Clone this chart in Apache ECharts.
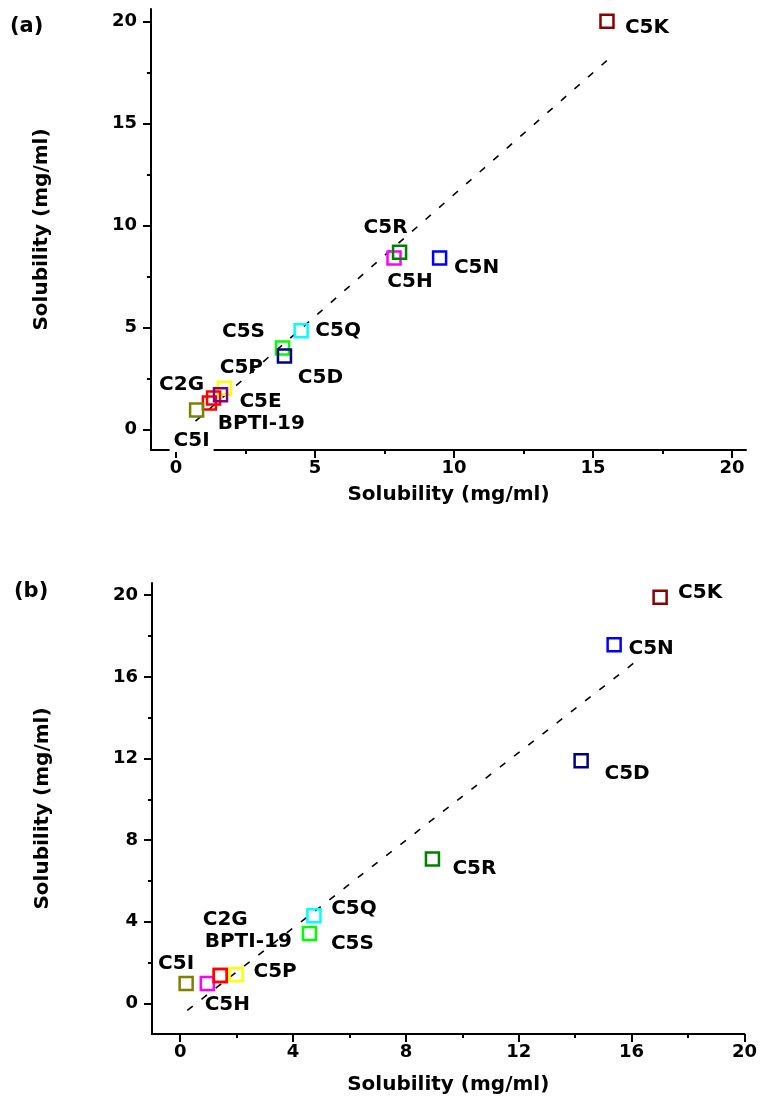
<!DOCTYPE html>
<html><head><meta charset="utf-8">
<script src="https://cdn.jsdelivr.net/npm/echarts@6.0.0/dist/echarts.min.js"></script>
<style>html,body{margin:0;padding:0;background:#fff}#c{width:760px;height:1101px}</style>
</head><body><div id="c"></div>
<script>
// ---------- Panel (a) data ----------
const namesA = ['C5K','C5N','C5H','C5R','C5Q','C5S','C5D','C5P','C2G','BPTI-19','C5E','C5I'];
const xA = [15.5, 9.48, 7.84, 8.04, 4.5, 3.83, 3.9, 1.74, 1.35, 1.2, 1.6, 0.74];
const yA = [20.0, 8.41, 8.41, 8.68, 4.84, 4.0, 3.6, 2.03, 1.55, 1.3, 1.71, 0.96];
const fitA = [[0.7, 0.41], [15.5, 18.08]];
const xTicksA = [0, 5, 10, 15, 20];
const xMinorA = [2.5, 7.5, 12.5, 17.5];
const yTicksA = [0, 5, 10, 15, 20];
const yMinorA = [2.5, 7.5, 12.5, 17.5];

// ---------- Panel (b) data ----------
const namesB = ['C5K','C5N','C5D','C5R','C5Q','C5S','C5P','C5H','C2G','BPTI-19','C5I'];
const xB = [17.01, 15.38, 14.21, 8.94, 4.74, 4.58, 1.98, 0.96, 1.42, 1.42, 0.21];
const yB = [19.9, 17.57, 11.89, 7.08, 4.29, 3.43, 1.42, 0.98, 1.37, 1.37, 0.98];
const fitB = [[0.25, -0.34], [16.1, 16.70]];
const xTicksB = [0, 4, 8, 12, 16, 20];
const xMinorB = [2, 6, 10, 14, 18];
const yTicksB = [0, 4, 8, 12, 16, 20];
const yMinorB = [2, 6, 10, 14, 18];

const axisTitle = 'Solubility (mg/ml)';

// ---------- styles ----------
const colors = {
  'C5K': '#8b0000', 'C5N': '#0000ff', 'C5R': '#008000', 'C5H': '#ff00ff',
  'C5Q': '#00ffff', 'C5S': '#00ff00', 'C5D': '#000080', 'C5P': '#ffff00',
  'C2G': '#ff0000', 'BPTI-19': '#ff0000', 'C5E': '#800080', 'C5I': '#808000'
};
// label centre offset from the marker centre, in pixels
const offA = {
  'C5K': [40, 7], 'C5N': [37, 10], 'C5R': [-14, -25], 'C5H': [16, 24],
  'C5Q': [37, 0], 'C5S': [-39, -16], 'C5D': [36, 22], 'C5P': [17, -20],
  'C2G': [-32, -13], 'C5E': [40, 7], 'BPTI-19': [52, 21], 'C5I': [-5, 31]
};
const offB = {
  'C5K': [40, -4], 'C5N': [37, 4], 'C5D': [46, 13], 'C5R': [42, 10],
  'C5Q': [40, -7], 'C5S': [43, 10], 'C5P': [39, -3], 'C2G': [5, -56],
  'BPTI-19': [28, -34], 'C5I': [-10, -20], 'C5H': [20, 21]
};

const FONT = 'DejaVu Sans';
const BLACK = '#000';

function buildPoints(names, xs, ys, offs) {
  return names.map((n, i) => ({
    name: n,
    value: [xs[i], ys[i]],
    itemStyle: { color: 'rgba(0,0,0,0)', borderColor: colors[n], borderWidth: 2.5, opacity: 1 },
    label: {
      show: true, position: 'inside', offset: offs[n], formatter: n,
      color: BLACK, fontFamily: FONT, fontWeight: 'bold', fontSize: 20,
      textBorderWidth: 0, opacity: 1,
      align: 'center', verticalAlign: 'middle',
      backgroundColor: n === 'C5I' ? '#fff' : 'transparent',
      padding: n === 'C5I' ? [1, 4, 1, 4] : 0
    }
  }));
}

function mainX(grid, min, max, ticks, nameGap, lblMargin) {
  return {
    type: 'value', gridIndex: grid, min: min, max: max, position: 'bottom',
    name: axisTitle, nameLocation: 'middle', nameGap: nameGap,
    nameTextStyle: { color: BLACK, fontFamily: FONT, fontWeight: 'bold', fontSize: 20 },
    axisLine: { show: true, onZero: false, lineStyle: { color: BLACK, width: 2 } },
    axisTick: { show: true, inside: false, length: 8, customValues: ticks, lineStyle: { color: BLACK, width: 2 } },
    axisLabel: { show: true, customValues: ticks, margin: lblMargin, color: BLACK, fontFamily: FONT, fontWeight: 'bold', fontSize: 18 },
    splitLine: { show: false }
  };
}
function minorX(grid, min, max, ticks) {
  return {
    type: 'value', gridIndex: grid, min: min, max: max, position: 'bottom',
    axisLine: { show: false, onZero: false },
    axisTick: { show: true, inside: false, length: 4, customValues: ticks, lineStyle: { color: BLACK, width: 2 } },
    axisLabel: { show: false }, splitLine: { show: false }
  };
}
function mainY(grid, min, max, ticks, nameGap) {
  return {
    type: 'value', gridIndex: grid, min: min, max: max, position: 'left',
    name: axisTitle, nameLocation: 'middle', nameGap: nameGap,
    nameTextStyle: { color: BLACK, fontFamily: FONT, fontWeight: 'bold', fontSize: 20 },
    axisLine: { show: true, onZero: false, lineStyle: { color: BLACK, width: 2 } },
    axisTick: { show: true, inside: false, length: 8, customValues: ticks, lineStyle: { color: BLACK, width: 2 } },
    axisLabel: { show: true, customValues: ticks, margin: 14, color: BLACK, fontFamily: FONT, fontWeight: 'bold', fontSize: 18 },
    splitLine: { show: false }
  };
}
function minorY(grid, min, max, ticks) {
  return {
    type: 'value', gridIndex: grid, min: min, max: max, position: 'left',
    axisLine: { show: false, onZero: false },
    axisTick: { show: true, inside: false, length: 4, customValues: ticks, lineStyle: { color: BLACK, width: 2 } },
    axisLabel: { show: false }, splitLine: { show: false }
  };
}

const chart = echarts.init(document.getElementById('c'), null, { renderer: 'canvas' });
chart.setOption({
  animation: false,
  backgroundColor: '#fff',
  grid: [
    { left: 151, top: 9, width: 595, height: 441 },
    { left: 152, top: 583, width: 593, height: 451 }
  ],
  xAxis: [
    mainX(0, -0.9, 20.5, xTicksA, 35, 9),
    minorX(0, -0.9, 20.5, xMinorA),
    mainX(1, -1, 20, xTicksB, 41, 9),
    minorX(1, -1, 20, xMinorB)
  ],
  yAxis: [
    mainY(0, -1, 20.6, yTicksA, 99),
    minorY(0, -1, 20.6, yMinorA),
    mainY(1, -1.5, 20.6, yTicksB, 99),
    minorY(1, -1.5, 20.6, yMinorB)
  ],
  graphic: [
    { type: 'text', left: 10, top: 16, style: { text: '(a)', fill: BLACK, font: 'bold 21px "DejaVu Sans"' } },
    { type: 'text', left: 14, top: 581, style: { text: '(b)', fill: BLACK, font: 'bold 21px "DejaVu Sans"' } }
  ],
  series: [
    { type: 'line', xAxisIndex: 0, yAxisIndex: 0, data: fitA, symbol: 'none', z: 1, silent: true,
      lineStyle: { color: BLACK, width: 1.6, type: [7, 11] } },
    { type: 'scatter', xAxisIndex: 0, yAxisIndex: 0, symbol: 'rect', symbolSize: 13, z: 3, silent: true,
      itemStyle: { opacity: 1 },
      data: buildPoints(namesA, xA, yA, offA) },
    { type: 'line', xAxisIndex: 2, yAxisIndex: 2, data: fitB, symbol: 'none', z: 1, silent: true,
      lineStyle: { color: BLACK, width: 1.6, type: [7, 11] } },
    { type: 'scatter', xAxisIndex: 2, yAxisIndex: 2, symbol: 'rect', symbolSize: 13, z: 3, silent: true,
      itemStyle: { opacity: 1 },
      data: buildPoints(namesB, xB, yB, offB) }
  ]
});
</script>
</body></html>
